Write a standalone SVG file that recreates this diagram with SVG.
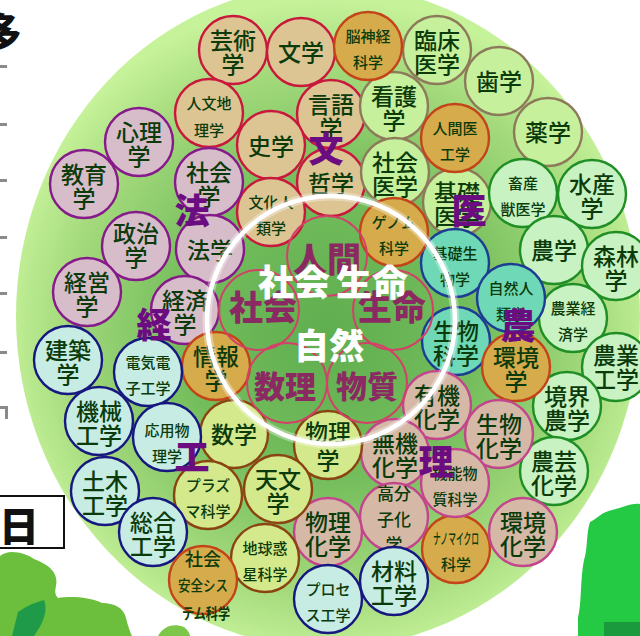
<svg xmlns="http://www.w3.org/2000/svg" width="640" height="636" viewBox="0 0 640 636">
  <defs>
    <radialGradient id="disk" cx="330" cy="330" r="330" gradientUnits="userSpaceOnUse">
      <stop offset="0" stop-color="#5fae4f"/>
      <stop offset="0.45" stop-color="#74bd5c"/>
      <stop offset="0.8" stop-color="#a4da7c"/>
      <stop offset="1" stop-color="#c6f29a"/>
    </radialGradient>
    <style>
      text { font-family: "Noto Sans CJK JP", "Noto Sans", sans-serif; text-anchor: middle; }
      .n circle { stroke-width: 2.4; }
      .n text { fill: #0b3b0b; font-weight: 500; }
      .b { font-size: 23px; }
      .s { font-size: 15px; font-weight: 400; }
      .bun circle { fill: #dcc493; stroke: #c8183c; }
      .hou circle { fill: #d7bdc9; stroke: #861a8a; }
      .i circle { fill: #c6f09c; stroke: #8d7a5a; }
      .nou circle { fill: #c8f2c2; stroke: #1f8e24; }
      .kag circle { fill: #d5b9a6; stroke: #c2468c; }
      .sub circle { fill: #d3e98c; stroke: #8a4412; }
      .kou circle { fill: #c6ece4; stroke: #17187f; }
      .tea circle { fill: #6fd8b6; stroke: #1d3d92; }
      .ora circle { fill: #d6ab4c; stroke: #c4441a; }
      .core circle { fill: none; stroke: #d34068; stroke-width: 2; }
      .core text { fill: #8b2a62; font-weight: 900; }
      .cat { fill: #6b0d80; font-weight: 900; font-size: 35px; }
      .big { fill: #ffffff; font-weight: 900; }
    </style>
  </defs>

  <rect width="640" height="636" fill="#ffffff"/>

  <!-- edge of the slide on the left -->
  <g id="slide-left">
    <text x="2" y="47" style="font-size:40px;font-weight:900;fill:#111;text-anchor:middle">多</text>
    <g fill="#8a8a8a">
      <rect x="0" y="65" width="7" height="3"/>
      <rect x="0" y="123" width="7" height="3"/>
      <rect x="0" y="179" width="7" height="3"/>
      <rect x="0" y="236" width="7" height="3"/>
      <rect x="0" y="292" width="7" height="3"/>
      <rect x="0" y="351" width="7" height="3"/>
      <path d="M0,406 H8 V419 H5 V409 H0 Z"/>
    </g>
  </g>

  <!-- foliage -->
  <g id="trees">
    <path d="M0,556 C8,549 24,552 34,559 C44,563 54,568 56,578 C58,586 52,592 58,598 C70,596 90,597 102,603 C114,603 124,608 126,618 C128,626 130,632 132,636 L0,636 Z" fill="#6cbe3d"/>
    <path d="M18,612 C26,606 36,602 44,600 C48,610 44,622 34,636 L12,636 Z" fill="#1e9a48"/>
    <path d="M158,636 C162,628 172,622 184,627 C188,630 190,634 190,636 Z" fill="#7cc64a"/>
    <path d="M640,504 C630,503 622,508 612,510 C602,512 598,518 590,522 C586,534 588,548 584,560 C580,580 582,600 578,618 L578,636 L640,636 Z" fill="#24c944"/>
    <path d="M604,622 H640 V636 H604 Z" fill="#1a9a3c"/>
  </g>

  <!-- green disk -->
  <ellipse cx="328" cy="316" rx="312" ry="332" fill="url(#disk)"/>

  <!-- humanities -->
  <g id="geijutsu" class="n bun"><circle cx="233" cy="50" r="34"/><text class="b" x="233" y="49">芸術</text><text class="b" x="233" y="73">学</text></g>
  <g id="bungaku" class="n bun"><circle cx="301" cy="52" r="34"/><text class="b" x="301" y="61">文学</text></g>
  <g id="jinbunchiri" class="n bun"><circle cx="209" cy="113" r="34"/><text class="s" x="209" y="109">人文地</text><text class="s" x="209" y="136">理学</text></g>
  <g id="gengo" class="n bun"><circle cx="331" cy="114" r="34"/><text class="b" x="331" y="113">言語</text><text class="b" x="331" y="137">学</text></g>
  <g id="shigaku" class="n bun"><circle cx="271" cy="145" r="34"/><text class="b" x="271" y="155">史学</text></g>
  <g id="tetsugaku" class="n bun"><circle cx="331" cy="182" r="34"/><text class="b" x="331" y="192">哲学</text></g>
  <g id="bunkajinrui" class="n bun"><circle cx="271" cy="212" r="34"/><text class="s" x="271" y="208">文化人</text><text class="s" x="271" y="234">類学</text></g>

  <!-- law and economics -->
  <g id="shinri" class="n hou"><circle cx="139" cy="142" r="34"/><text class="b" x="139" y="141">心理</text><text class="b" x="139" y="165">学</text></g>
  <g id="kyoiku" class="n hou"><circle cx="84" cy="184" r="34"/><text class="b" x="84" y="183">教育</text><text class="b" x="84" y="207">学</text></g>
  <g id="shakaigaku" class="n hou"><circle cx="209" cy="182" r="34"/><text class="b" x="209" y="181">社会</text><text class="b" x="209" y="205">学</text></g>
  <g id="seiji" class="n hou"><circle cx="136" cy="246" r="34"/><text class="b" x="136" y="242">政治</text><text class="b" x="136" y="266">学</text></g>
  <g id="hogaku" class="n hou"><circle cx="210" cy="249" r="34"/><text class="b" x="210" y="259">法学</text></g>
  <g id="keiei" class="n hou"><circle cx="87" cy="292" r="34"/><text class="b" x="87" y="291">経営</text><text class="b" x="87" y="315">学</text></g>
  <g id="keizai" class="n hou"><circle cx="185" cy="310" r="34"/><text class="b" x="185" y="309">経済</text><text class="b" x="185" y="333">学</text></g>

  <!-- medicine -->
  <g id="rinsho" class="n i"><circle cx="437" cy="50" r="34"/><text class="b" x="437" y="49">臨床</text><text class="b" x="437" y="73">医学</text></g>
  <g id="shika" class="n i"><circle cx="499" cy="81" r="34"/><text class="b" x="499" y="90">歯学</text></g>
  <g id="yakugaku" class="n i"><circle cx="548" cy="132" r="34"/><text class="b" x="548" y="141">薬学</text></g>
  <g id="kango" class="n i"><circle cx="394" cy="106" r="34"/><text class="b" x="394" y="105">看護</text><text class="b" x="394" y="129">学</text></g>
  <g id="shakaiigaku" class="n i"><circle cx="395" cy="172" r="34"/><text class="b" x="395" y="171">社会</text><text class="b" x="395" y="195">医学</text></g>
  <g id="kisoigaku" class="n i"><circle cx="457" cy="202" r="34"/><text class="b" x="457" y="201">基礎</text><text class="b" x="457" y="225">医学</text></g>

  <!-- agriculture -->
  <g id="chikusan" class="n nou"><circle cx="523" cy="193" r="34"/><text class="s" x="523" y="189">畜産</text><text class="s" x="523" y="215">獣医学</text></g>
  <g id="suisan" class="n nou"><circle cx="592" cy="194" r="34"/><text class="b" x="592" y="193">水産</text><text class="b" x="592" y="217">学</text></g>
  <g id="nogaku" class="n nou"><circle cx="554" cy="250" r="34"/><text class="b" x="554" y="259">農学</text></g>
  <g id="shinrin" class="n nou"><circle cx="616" cy="266" r="34"/><text class="b" x="616" y="265">森林</text><text class="b" x="616" y="289">学</text></g>
  <g id="nokei" class="n nou"><circle cx="573" cy="318" r="34"/><text class="s" x="573" y="314">農業経</text><text class="s" x="573" y="340">済学</text></g>
  <g id="nogyokogaku" class="n nou"><circle cx="616" cy="367" r="34"/><text class="b" x="616" y="364">農業</text><text class="b" x="616" y="388">工学</text></g>
  <g id="kyokai" class="n nou"><circle cx="567" cy="406" r="34"/><text class="b" x="567" y="405">境界</text><text class="b" x="567" y="429">農学</text></g>
  <g id="nogei" class="n nou"><circle cx="554" cy="471" r="34"/><text class="b" x="554" y="470">農芸</text><text class="b" x="554" y="494">化学</text></g>

  <!-- biology -->
  <g id="kisoseibutsu" class="n tea"><circle cx="455" cy="263" r="34"/><text class="s" x="455" y="259">基礎生</text><text class="s" x="455" y="285">物学</text></g>
  <g id="shizenjinrui" class="n tea"><circle cx="511" cy="298" r="34"/><text class="s" x="511" y="294">自然人</text><text class="s" x="511" y="320">類学</text></g>
  <g id="seibutsukagaku" class="n tea"><circle cx="456" cy="341" r="34"/><text class="b" x="456" y="340">生物</text><text class="b" x="456" y="364">科学</text></g>

  <!-- interdisciplinary -->
  <g id="noshinkei" class="n ora"><circle cx="368" cy="46" r="34"/><text class="s" x="368" y="42">脳神経</text><text class="s" x="368" y="68">科学</text></g>
  <g id="ningeniko" class="n ora"><circle cx="455" cy="138" r="34"/><text class="s" x="455" y="134">人間医</text><text class="s" x="455" y="160">工学</text></g>
  <g id="genomu" class="n ora"><circle cx="394" cy="232" r="34"/><text class="s" x="394" y="228">ゲノム</text><text class="s" x="394" y="254">科学</text></g>
  <g id="joho" class="n ora"><circle cx="216" cy="366" r="34"/><text class="b" x="216" y="365">情報</text><text class="b" x="216" y="389">学</text></g>
  <g id="kankyo" class="n ora"><circle cx="516" cy="367" r="34"/><text class="b" x="516" y="366">環境</text><text class="b" x="516" y="390">学</text></g>
  <g id="nano" class="n ora"><circle cx="456" cy="549" r="34"/><text class="s" x="456" y="544" textLength="46" lengthAdjust="spacingAndGlyphs">ナノマイクロ</text><text class="s" x="456" y="570">科学</text></g>

  <!-- chemistry -->
  <g id="yuki" class="n kag"><circle cx="437" cy="405" r="34"/><text class="b" x="437" y="404">有機</text><text class="b" x="437" y="428">化学</text></g>
  <g id="seikagaku" class="n kag"><circle cx="499" cy="434" r="34"/><text class="b" x="499" y="433">生物</text><text class="b" x="499" y="457">化学</text></g>
  <g id="muki" class="n kag"><circle cx="395" cy="453" r="34"/><text class="b" x="395" y="452">無機</text><text class="b" x="395" y="476">化学</text></g>
  <g id="kino" class="n kag"><circle cx="455" cy="483" r="34"/><text class="s" x="455" y="479">機能物</text><text class="s" x="455" y="505">質科学</text></g>
  <g id="kobunshi" class="n kag"><circle cx="394" cy="517" r="34"/><text class="s" x="394" y="500" style="font-size:17px">高分</text><text class="s" x="394" y="526" style="font-size:17px">子化</text><text class="s" x="394" y="551" style="font-size:17px">学</text></g>
  <g id="butsurikagaku" class="n kag"><circle cx="328" cy="532" r="34"/><text class="b" x="328" y="531">物理</text><text class="b" x="328" y="555">化学</text></g>
  <g id="kankyokagaku" class="n kag"><circle cx="523" cy="532" r="34"/><text class="b" x="523" y="531">環境</text><text class="b" x="523" y="555">化学</text></g>

  <!-- mathematics and physics -->
  <g id="butsuri" class="n sub"><circle cx="328" cy="445" r="34"/><text class="b" x="328" y="441">物理</text><text class="b" x="328" y="469">学</text></g>
  <g id="sugaku" class="n sub"><circle cx="234" cy="434" r="34"/><text class="b" x="234" y="443">数学</text></g>
  <g id="tenmon" class="n sub"><circle cx="278" cy="489" r="34"/><text class="b" x="278" y="488">天文</text><text class="b" x="278" y="512">学</text></g>
  <g id="plasma" class="n sub"><circle cx="208" cy="495" r="34"/><text class="s" x="208" y="491">プラズ</text><text class="s" x="208" y="517">マ科学</text></g>
  <g id="chikyu" class="n sub"><circle cx="265" cy="558" r="34"/><text class="s" x="265" y="554">地球惑</text><text class="s" x="265" y="580">星科学</text></g>

  <!-- engineering -->
  <g id="kenchiku" class="n kou"><circle cx="68" cy="360" r="34"/><text class="b" x="68" y="359">建築</text><text class="b" x="68" y="383">学</text></g>
  <g id="denki" class="n kou"><circle cx="148" cy="372" r="34"/><text class="s" x="148" y="368">電気電</text><text class="s" x="148" y="394">子工学</text></g>
  <g id="kikai" class="n kou"><circle cx="99" cy="421" r="34"/><text class="b" x="99" y="420">機械</text><text class="b" x="99" y="444">工学</text></g>
  <g id="oyobutsuri" class="n kou"><circle cx="167" cy="437" r="34"/><text class="s" x="167" y="436">応用物</text><text class="s" x="167" y="462">理学</text></g>
  <g id="doboku" class="n kou"><circle cx="105" cy="491" r="34"/><text class="b" x="105" y="490">土木</text><text class="b" x="105" y="514">工学</text></g>
  <g id="sogo" class="n kou"><circle cx="153" cy="532" r="34"/><text class="b" x="153" y="531">総合</text><text class="b" x="153" y="555">工学</text></g>
  <g id="shakaianzen" class="n ora"><circle cx="203" cy="580" r="34"/><text class="s" x="203" y="566" style="font-size:18px">社会</text><text class="s" x="203" y="591" textLength="50" lengthAdjust="spacingAndGlyphs">安全シス</text><text class="s" x="206" y="619" textLength="48" lengthAdjust="spacingAndGlyphs" style="font-weight:700">テム科学</text></g>
  <g id="process" class="n kou"><circle cx="328" cy="599" r="34"/><text class="s" x="328" y="595">プロセ</text><text class="s" x="328" y="621">ス工学</text></g>
  <g id="zairyo" class="n kou"><circle cx="394" cy="581" r="34"/><text class="b" x="394" y="580">材料</text><text class="b" x="394" y="604">工学</text></g>

  <!-- core fields -->
  <g id="core" class="core">
    <circle cx="327" cy="256" r="40"/>
    <circle cx="259" cy="310" r="40"/>
    <circle cx="393" cy="310" r="40"/>
    <circle cx="287" cy="383" r="40"/>
    <circle cx="367" cy="383" r="40"/>
    <text x="327" y="272" style="font-size:34px">人間</text>
    <text x="263" y="320" style="font-size:34px">社会</text>
    <text x="392" y="320" style="font-size:34px">生命</text>
    <text x="285" y="398" style="font-size:31px">数理</text>
    <text x="367" y="398" style="font-size:31px">物質</text>
  </g>

  <!-- ring round the core -->
  <g id="ring">
    <circle cx="331" cy="320" r="124" fill="none" stroke="#ffffff" stroke-opacity="0.35" stroke-width="9"/>
    <circle cx="331" cy="320" r="124" fill="none" stroke="#ffffff" stroke-width="4.5"/>
    <text class="big" x="294" y="296" style="font-size:36px">社会</text>
    <text class="big" x="372" y="296" style="font-size:36px">生命</text>
    <text class="big" x="329" y="359" style="font-size:35px">自然</text>
  </g>

  <!-- faculty labels -->
  <g id="faculties">
    <text class="cat" x="326" y="162">文</text>
    <text class="cat" x="192" y="224">法</text>
    <text class="cat" x="469" y="224">医</text>
    <text class="cat" x="154" y="338">経</text>
    <text class="cat" x="518" y="339">農</text>
    <text class="cat" x="192" y="470">工</text>
    <text class="cat" x="436" y="475">理</text>
  </g>

  <!-- slide box -->
  <g id="slide-box">
    <rect x="-2" y="496" width="66" height="52" fill="#ffffff" stroke="#111111" stroke-width="2"/>
    <text x="19" y="541" style="font-size:40px;font-weight:900;fill:#111">日</text>
  </g>
</svg>
